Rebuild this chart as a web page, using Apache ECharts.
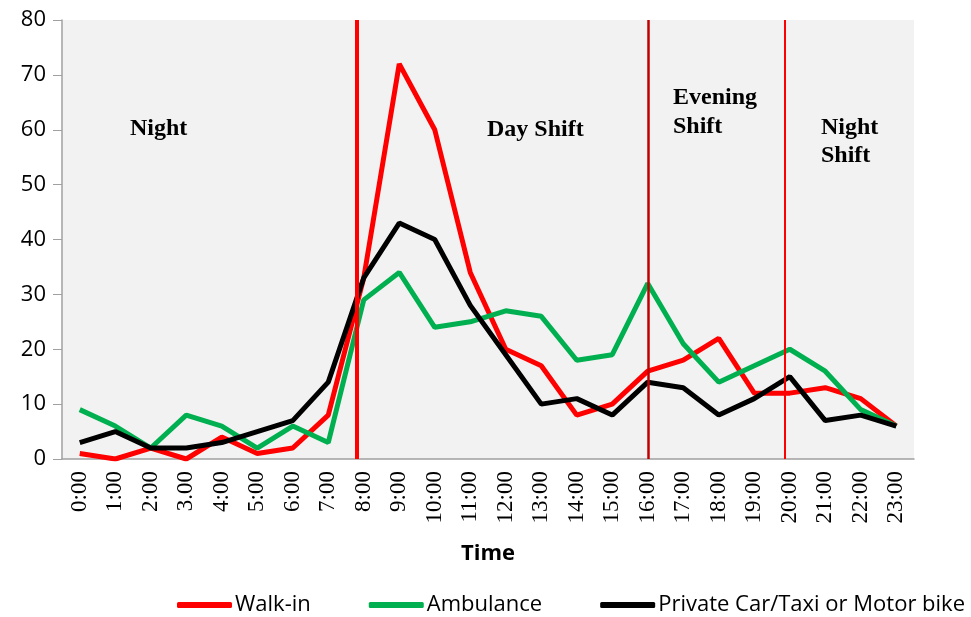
<!DOCTYPE html>
<html>
<head>
<meta charset="utf-8">
<script src="https://cdn.jsdelivr.net/npm/echarts@6/dist/echarts.min.js"></script>
<style>
  html, body { margin: 0; padding: 0; background: #fff; }
  #chart { width: 971px; height: 617px; }
</style>
</head>
<body>
<div id="chart"></div>
<script>
const hours = ['0:00', '1:00', '2:00', '3.00', '4:00', '5:00', '6:00', '7:00', '8:00', '9:00', '10:00', '11:00',
  '12:00', '13:00', '14:00', '15:00', '16:00', '17:00', '18:00', '19:00', '20:00', '21:00', '22:00', '23:00']
const walkIn = [1, 0, 2, 0, 4, 1, 2, 8, 33, 72, 60, 34, 20, 17, 8, 10, 16, 18, 22, 12, 12, 13, 11, 6]
const ambulance = [9, 6, 2, 8, 6, 2, 6, 3, 29, 34, 24, 25, 27, 26, 18, 19, 32, 21, 14, 17, 20, 16, 9, 6]
const privateCar = [3, 5, 2, 2, 3, 5, 7, 14, 33, 43, 40, 28, 19, 10, 11, 8, 14, 13, 8, 11, 15, 7, 8, 6]
// shift boundaries, in hour-index units
const shiftLines = [7.8, 16, 19.85]
const yTicks = [0, 80, 10]

const serif = '"Liberation Serif", "Times New Roman", serif'
const sans = '"Open Sans", "Liberation Sans", sans-serif'

const lineSeries = (name, data, color) => ({
  name,
  type: 'line',
  data,
  symbol: 'none',
  lineStyle: { color, width: 5 },
  itemStyle: { color },
  z: 3,
})

const shiftStyles = [
  { color: '#ff0000', width: 4 },
  { color: '#c00000', width: 2.5 },
  { color: '#ff0000', width: 2 },
]

const chart = echarts.init(document.getElementById('chart'))

chart.setOption({
  animation: false,
  grid: {
    left: 62,
    right: 57,
    top: 20,
    bottom: 158,
    show: true,
    backgroundColor: '#f2f2f2',
    borderWidth: 0,
  },
  legend: {
    data: ['Walk-in', 'Ambulance', 'Private Car/Taxi or Motor bike'],
    bottom: -4,
    left: 172,
    width: 799,
    icon: 'roundRect',
    itemWidth: 55,
    itemHeight: 6,
    itemGap: 58,
    textStyle: { fontFamily: sans, fontSize: 22, color: '#000', padding: [0, 0, 0, -2] },
  },
  xAxis: [
    {
      type: 'category',
      data: hours,
      boundaryGap: true,
      name: 'Time',
      nameLocation: 'middle',
      nameGap: 84,
      nameTextStyle: { fontFamily: sans, fontSize: 22, fontWeight: 'bold', color: '#000' },
      axisLine: { lineStyle: { color: '#a0a0a0', width: 1.5 } },
      axisTick: { show: false },
      axisLabel: { rotate: 90, interval: 0, fontFamily: serif, fontSize: 23, color: '#000', margin: 12 },
      splitLine: { show: false },
    },
    {
      type: 'value',
      min: -0.5,
      max: 23.5,
      show: false,
    },
  ],
  yAxis: {
    type: 'value',
    min: yTicks[0],
    max: yTicks[1],
    interval: yTicks[2],
    axisLine: { show: true, onZero: false, lineStyle: { color: '#a0a0a0', width: 1.5 } },
    axisTick: { show: true, inside: false, length: 9, lineStyle: { color: '#a0a0a0' } },
    axisLabel: { fontFamily: sans, fontSize: 22, color: '#000', margin: 16 },
    splitLine: { show: false },
  },
  series: [
    lineSeries('Walk-in', walkIn, '#ff0000'),
    lineSeries('Ambulance', ambulance, '#00b050'),
    lineSeries('Private Car/Taxi or Motor bike', privateCar, '#000000'),
    {
      name: 'shifts',
      type: 'line',
      xAxisIndex: 1,
      data: [],
      silent: true,
      markLine: {
        silent: true,
        symbol: 'none',
        label: { show: false },
        data: shiftLines.map((x, i) => ({ xAxis: x, lineStyle: { type: 'solid', ...shiftStyles[i] } })),
      },
      z: 4,
    },
  ],
  graphic: [
    { type: 'text', left: 130, top: 117, style: { text: 'Night', font: 'bold 24px ' + serif, fill: '#000' } },
    { type: 'text', left: 487, top: 118, style: { text: 'Day Shift', font: 'bold 24px ' + serif, fill: '#000' } },
    { type: 'text', left: 673, top: 83, style: { text: 'Evening\nShift', font: 'bold 24px ' + serif, fill: '#000', lineHeight: 29 } },
    { type: 'text', left: 821, top: 114, style: { text: 'Night\nShift', font: 'bold 24px ' + serif, fill: '#000', lineHeight: 28 } },
  ],
})
</script>
</body>
</html>
